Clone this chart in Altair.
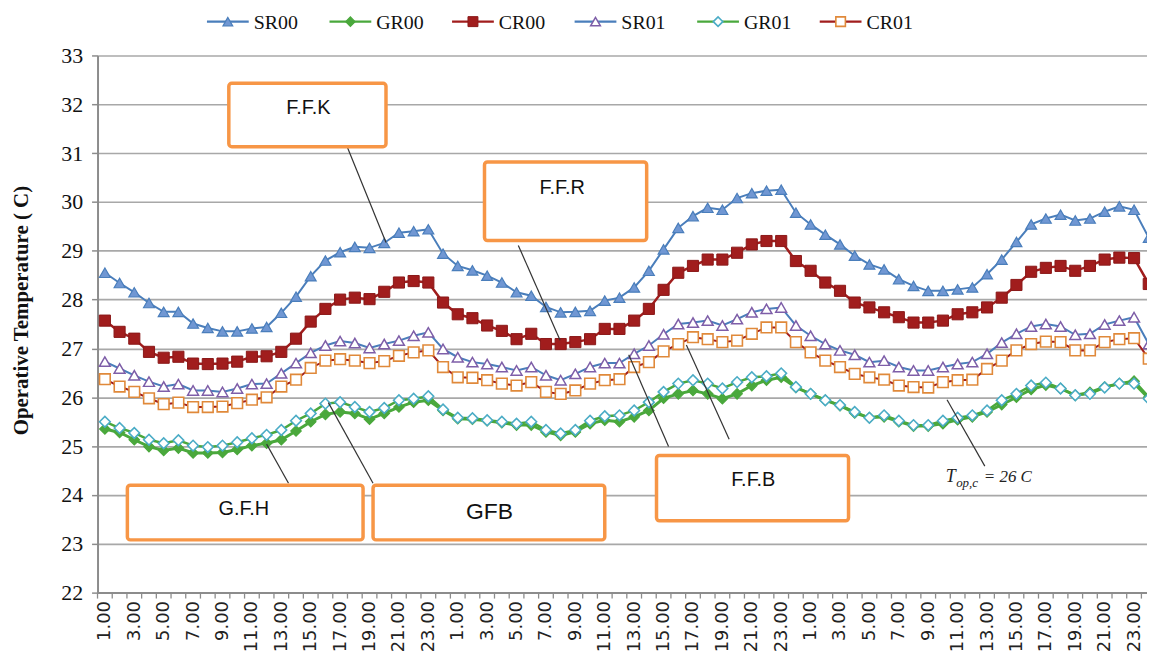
import altair as alt
import pandas as pd

# ---------------- data ----------------
series_names = ["SR00", "GR00", "CR00", "SR01", "GR01", "CR01"]
hours_per_day = 24
n_days = 3

sr00 = [28.55, 28.34, 28.15, 27.93, 27.75, 27.75, 27.51, 27.42, 27.35, 27.35, 27.41, 27.44,
        27.73, 28.06, 28.48, 28.80, 28.97, 29.08, 29.06, 29.16, 29.37, 29.40, 29.44, 28.94,
        28.69, 28.60, 28.49, 28.35, 28.15, 28.08, 27.85, 27.74, 27.75, 27.77, 27.98, 28.04,
        28.25, 28.59, 29.03, 29.47, 29.71, 29.88, 29.84, 30.08, 30.18, 30.23, 30.25, 29.78,
        29.54, 29.33, 29.13, 28.90, 28.72, 28.62, 28.42, 28.28, 28.18, 28.18, 28.21, 28.25,
        28.52, 28.82, 29.18, 29.54, 29.66, 29.74, 29.62, 29.66, 29.80, 29.91, 29.84, 29.27]
gr00 = [25.35, 25.28, 25.13, 24.99, 24.91, 24.96, 24.86, 24.86, 24.87, 24.93, 25.01, 25.06,
        25.13, 25.31, 25.50, 25.65, 25.70, 25.67, 25.55, 25.67, 25.80, 25.90, 25.94, 25.73,
        25.56, 25.55, 25.52, 25.48, 25.43, 25.43, 25.29, 25.22, 25.29, 25.46, 25.53, 25.50,
        25.60, 25.73, 25.98, 26.07, 26.14, 26.07, 25.97, 26.07, 26.24, 26.35, 26.41, 26.20,
        26.07, 25.94, 25.83, 25.68, 25.58, 25.60, 25.50, 25.41, 25.41, 25.46, 25.54, 25.60,
        25.70, 25.85, 26.00, 26.16, 26.25, 26.18, 26.04, 26.10, 26.21, 26.28, 26.33, 26.00]
cr00 = [27.57, 27.34, 27.20, 26.93, 26.81, 26.83, 26.69, 26.68, 26.69, 26.73, 26.83, 26.84,
        26.93, 27.20, 27.55, 27.81, 28.00, 28.04, 28.01, 28.16, 28.35, 28.38, 28.35, 27.94,
        27.70, 27.62, 27.47, 27.36, 27.19, 27.30, 27.09, 27.09, 27.13, 27.19, 27.40, 27.40,
        27.57, 27.81, 28.20, 28.55, 28.69, 28.82, 28.82, 28.96, 29.13, 29.20, 29.20, 28.79,
        28.59, 28.35, 28.18, 27.94, 27.84, 27.74, 27.64, 27.53, 27.53, 27.57, 27.70, 27.74,
        27.84, 28.04, 28.30, 28.57, 28.65, 28.69, 28.59, 28.69, 28.82, 28.86, 28.85, 28.32]
sr01 = [26.73, 26.59, 26.45, 26.32, 26.22, 26.27, 26.14, 26.14, 26.11, 26.18, 26.27, 26.28,
        26.49, 26.70, 26.91, 27.06, 27.15, 27.11, 27.01, 27.09, 27.16, 27.26, 27.33, 26.99,
        26.82, 26.72, 26.68, 26.62, 26.55, 26.62, 26.45, 26.35, 26.48, 26.62, 26.70, 26.70,
        26.89, 27.06, 27.29, 27.50, 27.53, 27.57, 27.47, 27.60, 27.74, 27.81, 27.84, 27.47,
        27.26, 27.09, 26.96, 26.87, 26.72, 26.75, 26.62, 26.55, 26.55, 26.62, 26.68, 26.72,
        26.89, 27.12, 27.30, 27.45, 27.50, 27.45, 27.28, 27.30, 27.49, 27.57, 27.64, 27.09]
gr01 = [25.50, 25.37, 25.27, 25.13, 25.06, 25.12, 25.01, 24.98, 25.01, 25.08, 25.16, 25.23,
        25.33, 25.52, 25.67, 25.87, 25.90, 25.80, 25.70, 25.78, 25.94, 25.97, 26.02, 25.75,
        25.58, 25.57, 25.53, 25.50, 25.46, 25.50, 25.33, 25.26, 25.33, 25.52, 25.61, 25.63,
        25.73, 25.90, 26.11, 26.28, 26.35, 26.28, 26.18, 26.31, 26.41, 26.43, 26.49, 26.21,
        26.07, 25.94, 25.84, 25.70, 25.58, 25.63, 25.52, 25.43, 25.43, 25.52, 25.58, 25.63,
        25.73, 25.94, 26.07, 26.24, 26.30, 26.18, 26.04, 26.07, 26.20, 26.28, 26.28, 25.97]
cr01 = [26.37, 26.22, 26.11, 25.98, 25.86, 25.89, 25.80, 25.80, 25.81, 25.88, 25.95, 26.00,
        26.22, 26.36, 26.60, 26.75, 26.78, 26.75, 26.70, 26.74, 26.85, 26.92, 26.96, 26.62,
        26.41, 26.40, 26.35, 26.28, 26.24, 26.31, 26.11, 26.07, 26.14, 26.28, 26.35, 26.37,
        26.62, 26.72, 26.94, 27.09, 27.23, 27.19, 27.13, 27.16, 27.30, 27.43, 27.43, 27.13,
        26.92, 26.75, 26.62, 26.48, 26.41, 26.36, 26.24, 26.21, 26.20, 26.31, 26.35, 26.36,
        26.58, 26.75, 26.96, 27.09, 27.14, 27.13, 26.96, 26.96, 27.13, 27.19, 27.21, 26.79]

y_ticks = list(range(22, 34))
y_title = "Operative Temperature ( C)"

# annotation boxes (data coordinates: x = time step index, y = temperature)
box_labels = ["F.F.K", "F.F.R", "F.F.B", "G.F.H", "GFB"]
box_x1 = [9.43, 26.82, 38.52, 2.53, 19.24]
box_x2 = [20.12, 37.85, 51.58, 18.56, 35.0]
box_y1 = [32.43, 30.82, 24.81, 24.20, 24.20]
box_y2 = [31.13, 29.21, 23.47, 23.08, 23.08]
box_tx = [14.84, 32.1, 45.1, 10.45, 27.16]
box_ty = [31.92, 30.29, 24.30, 23.71, 23.65]
box_fs = [20, 20, 20, 20, 23]

lead_x1 = [17.48, 29.12, 36.63, 40.55, 12.0, 16.2, 58.28]
lead_y1 = [31.13, 29.11, 26.87, 27.07, 25.04, 25.89, 25.95]
lead_x2 = [20.12, 31.96, 39.34, 43.46, 13.49, 19.24, 60.85]
lead_y2 = [29.17, 27.17, 24.99, 25.14, 24.24, 24.24, 24.59]

note_parts = ["T", "op,c", "= 26  C"]
note_x = [58.20, 58.90, 60.78]
note_y = [24.37, 24.24, 24.37]
note_fs = [18, 13, 17]

# ---------------- tables ----------------
n_steps = hours_per_day * n_days
idx = list(range(1, n_steps + 1))
rows = []
for name, vals in zip(series_names, [sr00, gr00, cr00, sr01, gr01, cr01]):
    for i, v in zip(idx, vals):
        rows.append({"idx": i, "series": name, "temp": v})
df = pd.DataFrame(rows)

ticks_df = pd.DataFrame({"b": [k + 0.5 for k in range(n_steps)]})
boxes_df = pd.DataFrame({"label": box_labels, "x1": box_x1, "x2": box_x2,
                         "y1": box_y1, "y2": box_y2, "tx": box_tx, "ty": box_ty, "fs": box_fs})
lead_df = pd.DataFrame({"x1": lead_x1, "y1": lead_y1, "x2": lead_x2, "y2": lead_y2})
note_df = pd.DataFrame({"t": note_parts, "x": note_x, "y": note_y, "fs": note_fs})
leg_df = pd.DataFrame({"series": series_names, "order": list(range(len(series_names)))})

# ---------------- styles ----------------
BLUE = "#4a7ebb"
GREEN = "#4aa83c"
RED = "#a11d1d"
styles = {
    "SR00": dict(line=BLUE, lw=2.0, shape="triangle-up", fill="#7097d3", stroke=BLUE, size=120, sw=1.2),
    "GR00": dict(line=GREEN, lw=3.0, shape="diamond", fill=GREEN, stroke=GREEN, size=110, sw=1.2),
    "CR00": dict(line=RED, lw=2.5, shape="square", fill=RED, stroke="#8a1818", size=125, sw=1.0),
    "SR01": dict(line=BLUE, lw=2.0, shape="triangle-up", fill="white", stroke="#7e5ea8", size=120, sw=1.5),
    "GR01": dict(line=GREEN, lw=2.5, shape="diamond", fill="white", stroke="#4bacc6", size=115, sw=1.6),
    "CR01": dict(line=RED, lw=2.0, shape="square", fill="white", stroke="#e0893a", size=115, sw=1.6),
}

AXIS_GRAY = "#8c8c8c"
PLOT_W, PLOT_H = 1055, 540
px_per_step = 14.78
xscale = alt.Scale(domain=[0.5, 0.5 + PLOT_W / px_per_step], nice=False, zero=False)
yscale = alt.Scale(domain=[22, 33], nice=False, zero=False)

label_values = [i for i in idx if ((i - 1) % hours_per_day) % 2 == 0]
x_axis = alt.Axis(values=label_values,
                  labelExpr="format(((datum.value - 1) % 24) + 1, '.2f')",
                  labelAngle=270, labelFont="DejaVu Sans", labelFontSize=18,
                  labelColor="#222222", labelPadding=8, labelFlush=False, labelOverlap=False,
                  ticks=False, grid=False, domainColor=AXIS_GRAY, domainWidth=2, title=None)
y_axis = alt.Axis(values=y_ticks, format="d", labelFont="Liberation Serif", labelFontSize=22,
                  labelColor="#111111", labelPadding=9, tickSize=6, tickColor=AXIS_GRAY,
                  tickWidth=1.5, domainColor=AXIS_GRAY, domainWidth=2,
                  gridColor="#a8a8a8", gridWidth=1.6,
                  title=y_title, titleFont="Liberation Serif", titleFontSize=21,
                  titleFontWeight="bold", titleColor="#111111", titleAngle=270,
                  titleX=-76, titleY=256, titleAlign="center", titleBaseline="middle")

X = alt.X("idx:Q", scale=xscale, axis=x_axis)
Y = alt.Y("temp:Q", scale=yscale, axis=y_axis)

main_layers = []
main_layers.append(
    alt.Chart(ticks_df).mark_rule(color=AXIS_GRAY, strokeWidth=1.3).encode(
        x=alt.X("b:Q", scale=xscale, axis=x_axis), y=alt.value(PLOT_H), y2=alt.value(PLOT_H + 6))
)
for name in series_names:
    st = styles[name]
    sub = alt.Chart(df).transform_filter(alt.datum.series == name)
    main_layers.append(sub.mark_line(color=st["line"], strokeWidth=st["lw"], clip=True).encode(x=X, y=Y))
    main_layers.append(
        sub.mark_point(shape=st["shape"], filled=True, fill=st["fill"], stroke=st["stroke"],
                       strokeWidth=st["sw"], size=st["size"], opacity=1, clip=True).encode(x=X, y=Y)
    )

# annotations
main_layers.append(
    alt.Chart(lead_df).mark_rule(color="#333333", strokeWidth=1.2).encode(
        x=alt.X("x1:Q", scale=xscale, axis=x_axis), y=alt.Y("y1:Q", scale=yscale, axis=y_axis),
        x2="x2:Q", y2="y2:Q")
)
main_layers.append(
    alt.Chart(boxes_df).mark_rect(fill="white", stroke="#f79646", strokeWidth=3.5, cornerRadius=3).encode(
        x=alt.X("x1:Q", scale=xscale, axis=x_axis), x2="x2:Q",
        y=alt.Y("y1:Q", scale=yscale, axis=y_axis), y2="y2:Q")
)
main_layers.append(
    alt.Chart(boxes_df).mark_text(font="Liberation Sans", color="#111111", baseline="middle").encode(
        x=alt.X("tx:Q", scale=xscale, axis=x_axis), y=alt.Y("ty:Q", scale=yscale, axis=y_axis),
        text="label:N", size=alt.Size("fs:Q", scale=None))
)
main_layers.append(
    alt.Chart(note_df).mark_text(font="Liberation Serif", fontStyle="italic", color="#222222",
                                 align="left", baseline="middle").encode(
        x=alt.X("x:Q", scale=xscale, axis=x_axis), y=alt.Y("y:Q", scale=yscale, axis=y_axis),
        text="t:N", size=alt.Size("fs:Q", scale=None))
)

main = alt.layer(*main_layers)

# manual legend across the top
leg_x = alt.X("order:Q", scale=alt.Scale(domain=[0, len(series_names) - 1], range=[131, 747]), axis=None)
leg_layers = []
for name in series_names:
    st = styles[name]
    sub = alt.Chart(leg_df).transform_filter(alt.datum.series == name)
    leg_layers.append(sub.mark_rule(color=st["line"], strokeWidth=2.5, xOffset=-21, x2Offset=21).encode(
        x=leg_x, x2="order:Q", y=alt.value(-34)))
    leg_layers.append(sub.mark_point(shape=st["shape"], filled=True, fill=st["fill"], stroke=st["stroke"],
                                     strokeWidth=st["sw"], size=st["size"] * 0.8, opacity=1).encode(
        x=leg_x, y=alt.value(-34)))
    leg_layers.append(sub.mark_text(font="Liberation Serif", fontSize=20, color="#111111", align="left",
                                    baseline="middle", dx=26).encode(
        x=leg_x, y=alt.value(-33), text="series:N"))
legend = alt.layer(*leg_layers)

chart = alt.layer(main, legend).resolve_scale(x="independent").properties(
    width=PLOT_W, height=PLOT_H,
    autosize=alt.AutoSizeParams(type="none"),
    padding={"left": 90, "top": 46, "right": 0, "bottom": 59},
    background="white",
).configure_view(strokeWidth=0)

chart.save("out.html", embed_options={"renderer": "svg", "actions": False})
